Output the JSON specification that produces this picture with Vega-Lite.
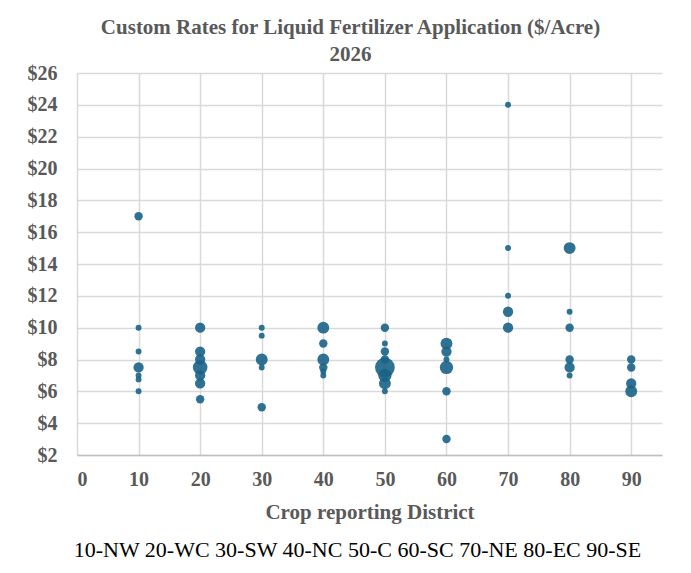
{
  "$schema": "https://vega.github.io/schema/vega-lite/v6.json",
  "width": 585,
  "height": 382,
  "autosize": {"type": "none"},
  "padding": {"left": 77, "top": 73, "right": 29, "bottom": 118},
  "background": "white",
  "title": {
    "text": ["Custom Rates for Liquid Fertilizer Application ($/Acre)", "2026"],
    "font": "Liberation Serif",
    "fontSize": 21,
    "fontWeight": "bold",
    "color": "#595959",
    "lineHeight": 27,
    "anchor": "middle",
    "dx": -19,
    "offset": -2
  },
  "data": {
    "values": [
      {"district": 10, "rate": 17, "n": 2},
      {"district": 10, "rate": 10, "n": 1},
      {"district": 10, "rate": 8.5, "n": 1},
      {"district": 10, "rate": 7.5, "n": 3},
      {"district": 10, "rate": 7, "n": 1},
      {"district": 10, "rate": 6.75, "n": 1},
      {"district": 10, "rate": 6, "n": 1},
      {"district": 20, "rate": 10, "n": 3},
      {"district": 20, "rate": 8.5, "n": 3},
      {"district": 20, "rate": 8, "n": 3},
      {"district": 20, "rate": 7.5, "n": 6},
      {"district": 20, "rate": 7, "n": 3},
      {"district": 20, "rate": 6.5, "n": 3},
      {"district": 20, "rate": 5.5, "n": 2},
      {"district": 30, "rate": 10, "n": 1},
      {"district": 30, "rate": 9.5, "n": 1},
      {"district": 30, "rate": 8, "n": 4},
      {"district": 30, "rate": 7.5, "n": 1},
      {"district": 30, "rate": 5, "n": 2},
      {"district": 40, "rate": 10, "n": 4},
      {"district": 40, "rate": 9, "n": 2},
      {"district": 40, "rate": 8, "n": 4},
      {"district": 40, "rate": 7.5, "n": 2},
      {"district": 40, "rate": 7.25, "n": 1},
      {"district": 40, "rate": 7, "n": 1},
      {"district": 50, "rate": 10, "n": 2},
      {"district": 50, "rate": 9, "n": 1},
      {"district": 50, "rate": 8.5, "n": 2},
      {"district": 50, "rate": 8, "n": 2},
      {"district": 50, "rate": 7.5, "n": 11},
      {"district": 50, "rate": 7, "n": 5},
      {"district": 50, "rate": 6.5, "n": 4},
      {"district": 50, "rate": 6, "n": 1},
      {"district": 60, "rate": 9, "n": 4},
      {"district": 60, "rate": 8.5, "n": 3},
      {"district": 60, "rate": 8, "n": 1},
      {"district": 60, "rate": 7.5, "n": 5},
      {"district": 60, "rate": 6, "n": 2},
      {"district": 60, "rate": 3, "n": 2},
      {"district": 70, "rate": 24, "n": 1},
      {"district": 70, "rate": 15, "n": 1},
      {"district": 70, "rate": 12, "n": 1},
      {"district": 70, "rate": 11, "n": 3},
      {"district": 70, "rate": 10, "n": 3},
      {"district": 80, "rate": 15, "n": 4},
      {"district": 80, "rate": 11, "n": 1},
      {"district": 80, "rate": 10, "n": 2},
      {"district": 80, "rate": 8, "n": 2},
      {"district": 80, "rate": 7.5, "n": 3},
      {"district": 80, "rate": 7, "n": 1},
      {"district": 90, "rate": 8, "n": 2},
      {"district": 90, "rate": 7.5, "n": 2},
      {"district": 90, "rate": 6.5, "n": 3},
      {"district": 90, "rate": 6, "n": 4}
    ]
  },
  "layer": [
    {
      "mark": {"type": "point", "filled": true, "color": "#1a6387", "opacity": 0.9, "strokeWidth": 0},
      "encoding": {
        "x": {
          "field": "district",
          "type": "quantitative",
          "scale": {"domain": [0, 95], "nice": false, "zero": true},
          "axis": {
            "values": [0, 10, 20, 30, 40, 50, 60, 70, 80, 90],
            "labelOverlap": false,
            "title": "Crop reporting District",
            "titleFont": "Liberation Serif",
            "titleFontSize": 21,
            "titleFontWeight": "bold",
            "titleColor": "#595959",
            "titlePadding": 12,
            "labelFont": "Liberation Serif",
            "labelFontSize": 20,
            "labelFontWeight": "bold",
            "labelColor": "#595959",
            "labelPadding": 14,
            "ticks": false,
            "tickSize": 0,
            "domain": true,
            "domainColor": "#bfbfbf",
            "domainWidth": 1.5,
            "grid": true,
            "gridColor": "#d9d9d9",
            "gridWidth": 1.5
          }
        },
        "y": {
          "field": "rate",
          "type": "quantitative",
          "scale": {"domain": [2, 26], "nice": false, "zero": false},
          "axis": {
            "values": [2, 4, 6, 8, 10, 12, 14, 16, 18, 20, 22, 24, 26],
            "labelOverlap": false,
            "format": "$,.0f",
            "title": null,
            "labelFont": "Liberation Serif",
            "labelFontSize": 20,
            "labelFontWeight": "bold",
            "labelColor": "#595959",
            "labelPadding": 20,
            "ticks": false,
            "tickSize": 0,
            "domain": false,
            "grid": true,
            "gridColor": "#d9d9d9",
            "gridWidth": 1.5
          }
        },
        "size": {
          "field": "n",
          "type": "quantitative",
          "scale": {"type": "linear", "domain": [0, 11], "range": [0, 390]},
          "legend": null
        }
      }
    },
    {
      "mark": {"type": "point", "opacity": 0},
      "encoding": {
        "x": {
          "field": "district",
          "type": "quantitative",
          "axis": {
            "orient": "bottom",
            "labels": false,
            "ticks": false,
            "domain": false,
            "grid": false,
            "title": "10-NW 20-WC 30-SW 40-NC 50-C 60-SC 70-NE 80-EC 90-SE",
            "titleFont": "Liberation Serif",
            "titleFontSize": 22,
            "titleFontWeight": "normal",
            "titleColor": "#000000",
            "titlePadding": 84,
            "titleX": 280
          }
        },
        "y": {"field": "rate", "type": "quantitative", "axis": null}
      }
    }
  ],
  "resolve": {"axis": {"x": "independent", "y": "independent"}},
  "config": {"view": {"stroke": null}, "axis": {"labelOverlap": false}, "axisY": {"labelOverlap": false}}
}
